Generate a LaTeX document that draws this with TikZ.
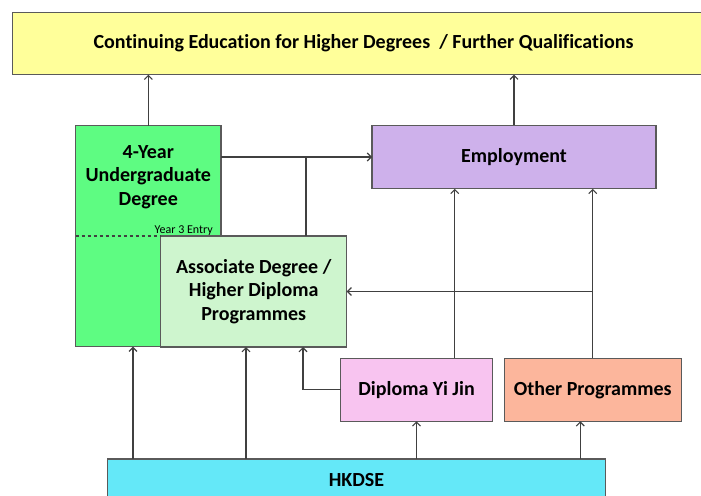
\documentclass[tikz,border=0pt]{standalone}
\usepackage{fontspec}
\setmainfont{Carlito}[Ligatures=NoCommon]
\usepackage{xcolor}
\usetikzlibrary{arrows.meta,calc}

\definecolor{contyellow}{RGB}{255,255,154}
\definecolor{ugdgreen}{RGB}{94,252,130}
\definecolor{assogreen}{RGB}{206,245,206}
\definecolor{emplilac}{RGB}{206,177,235}
\definecolor{dyjpink}{RGB}{248,196,240}
\definecolor{othersalmon}{RGB}{252,182,156}
\definecolor{dsecyan}{RGB}{100,232,248}
\definecolor{boxgray}{RGB}{90,90,90}
\definecolor{linegray}{RGB}{64,64,64}

\begin{document}
\begin{tikzpicture}[x=1pt,y=-1pt,
    box/.style={draw=boxgray,line width=1.2pt,align=center,inner sep=0pt,outer sep=0pt,
        font=\bfseries\fontsize{20}{23.5}\selectfont},
    link/.style={draw=linegray,line width=1.1pt},
    arr/.style={link,-{Straight Barb[length=4pt,width=8pt]}}]
    \useasboundingbox (0,0) rectangle (701,495);
    \clip (0,0) rectangle (701,495);

    \node[box,fill=contyellow,minimum width=702.4,minimum height=62.4] (cont) at (363.5,43.5)
        {Continuing Education for Higher Degrees \ / Further Qualifications};
    \node[box,fill=ugdgreen,minimum width=145.3,minimum height=221,anchor=north west] (ugd) at (75.7,125.7) {};
    \node[box,fill=assogreen,minimum width=186,minimum height=111,anchor=north west] (asso) at (160.7,236)
        {Associate Degree /\\Higher Diploma\\Programmes};
    \node[box,draw=none] (ugdtext) at (148.3,177) {4-Year\\Undergraduate\\Degree};
    \node[box,fill=emplilac,minimum width=284,minimum height=63.7] (emp) at (514,157) {Employment};
    \node[box,fill=dyjpink,minimum width=151.6,minimum height=63] (dyj) at (416.5,389.8) {Diploma Yi Jin};
    \node[box,fill=othersalmon,minimum width=177,minimum height=63] (other) at (592.8,389.8) {Other Programmes};
    \node[box,fill=dsecyan,minimum width=497.7,minimum height=42] (dse) at (356.5,480) {HKDSE};

    % year 3 entry
    \draw[link,dashed] (ugd.west |- asso.north) -- (asso.north west);
    \node[anchor=base east,inner sep=0pt,font=\fontsize{12}{12}\selectfont] (entry) at (213,233.5) {Year 3 Entry};

    % upward links
    \draw[arr] (ugd.north) -- (ugd.north |- cont.south);
    \draw[arr] (emp.north) -- (emp.north |- cont.south);
    \foreach \x/\t in {133/ugd,246/asso,416.5/dyj,580.3/other}
        \draw[arr] (\x,0 |- dse.north) -- (\x,0 |- \t.south);
    \draw[arr] (454.7,0 |- dyj.north) -- (454.7,0 |- emp.south);
    \draw[arr] (other.north) -- (other.north |- emp.south);

    % sideways links
    \draw[arr] (ugd.east |- emp.west) -- (emp.west);
    \draw[link] (306,0 |- emp.west) -- (306,0 |- asso.north);
    \draw[arr] (other.north |- asso.east) -- (asso.east);
    \draw[arr] (dyj.west) -| (303,0 |- asso.south);
\end{tikzpicture}
\end{document}
